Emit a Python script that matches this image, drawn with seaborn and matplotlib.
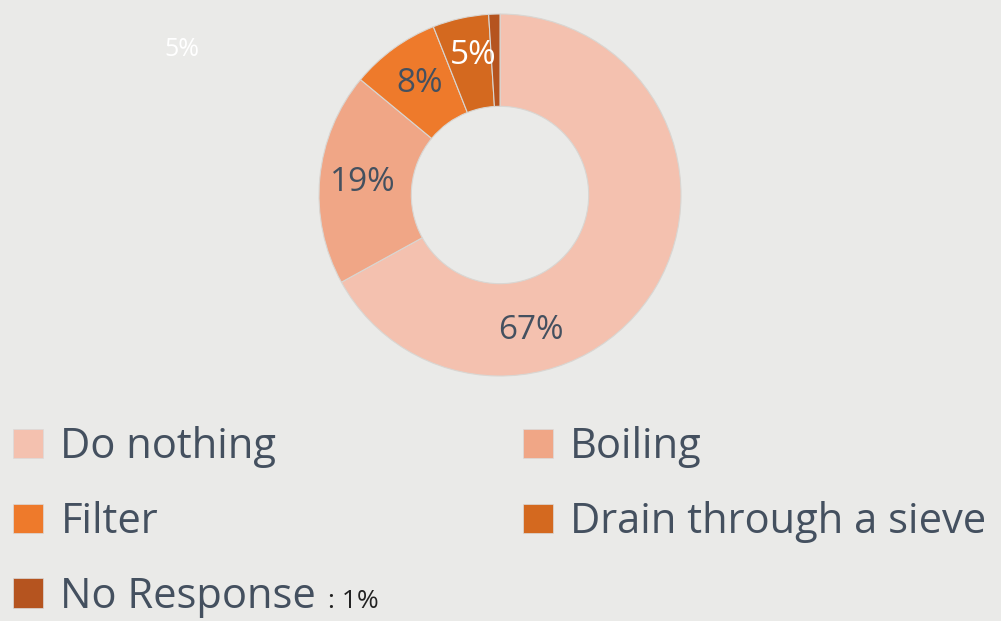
import matplotlib
matplotlib.use("Agg")
import matplotlib.pyplot as plt
import matplotlib.patches as mpatches
import seaborn as sns

# --- data ---
categories = ["Do nothing", "Boiling", "Filter", "Drain through a sieve", "No Response"]
shares = [67, 19, 8, 5, 1]
pct_labels = ["67%", "19%", "8%", "5%", ""]
colors = ["#F4C1AF", "#F0A686", "#EE7A2B", "#D4691F", "#B5541F"]

# --- style ---
sns.set_theme(style="white")
plt.rcParams["font.family"] = ["Open Sans", "DejaVu Sans"]
bg = "#EAEAE8"
text_dark = "#44505F"

fig = plt.figure(figsize=(10.01, 6.21), dpi=100, facecolor=bg)
W, H = 1001, 621
cx, cy, r = 500, 195, 181
ax = fig.add_axes([(cx - r) / W, 1 - (cy + r) / H, 2 * r / W, 2 * r / H])
ax.set_facecolor(bg)

wedges, texts, autotexts = ax.pie(
    shares,
    colors=colors,
    startangle=90,
    counterclock=False,
    autopct=lambda p: "",
    pctdistance=0.76,
    wedgeprops=dict(width=0.51, edgecolor="#D9D6D2", linewidth=0.8),
)
ax.set_xlim(-1, 1)
ax.set_ylim(-1, 1)
ax.set_aspect("equal")

for t, lab in zip(autotexts, pct_labels):
    t.set_text(lab)
    t.set_fontsize(24)
    t.set_color(text_dark)
# PowerPoint pushed the big label toward the bottom; the 5% label is white
autotexts[0].set_position((0.17, -0.75))
autotexts[3].set_color("white")
autotexts[3].set_position((-0.15, 0.77))

# legend, two columns, filled row by row
handles = [mpatches.Patch(facecolor=c, edgecolor="#DADADA", linewidth=0.5) for c in colors]
order = [0, 2, 4, 1, 3]
fig.legend(
    [handles[i] for i in order],
    [categories[i] for i in order],
    loc="upper left",
    bbox_to_anchor=(13 / W, 1 - 426 / H),
    ncol=2,
    frameon=False,
    fontsize=30,
    labelcolor=text_dark,
    handlelength=0.72,
    handleheight=0.72,
    handletextpad=0.42,
    columnspacing=4.95,
    labelspacing=0.79,
    borderpad=0,
    borderaxespad=0,
)

# stray labels from the original slide
fig.text(182 / W, 1 - 50 / H, "5%", color="white", fontsize=18, ha="center", va="center")
fig.text(328 / W, 1 - 602 / H, ": 1%", color="#222222", fontsize=19, ha="left", va="center")

fig.savefig("out.png", dpi=100, facecolor=bg)
